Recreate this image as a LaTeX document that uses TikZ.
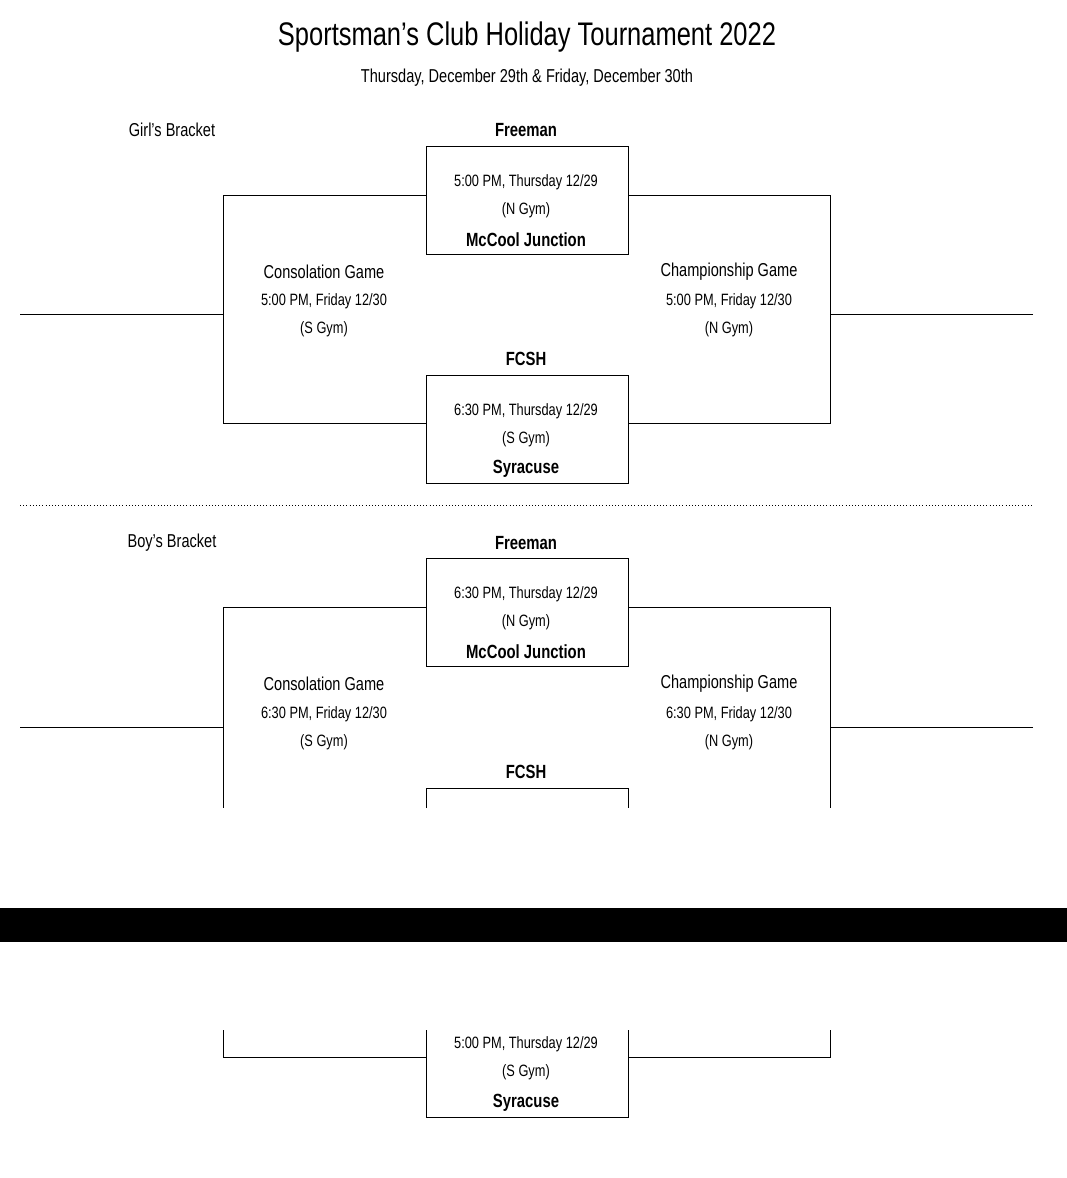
\documentclass[tikz,border=0pt]{standalone}
\usepackage{fontspec}
\setmainfont{Liberation Sans}[FakeStretch=0.78]
\begin{document}
\begin{tikzpicture}[x=0.75pt,y=-0.75pt,
  gbox/.style={draw,minimum width=151.5pt,minimum height=81pt,inner sep=0pt},
  txt/.style={inner sep=0pt,font=\fontsize{12.3}{14}\selectfont},
  team/.style={inner sep=0pt,font=\fontsize{14.3}{16}\selectfont\bfseries},
  head/.style={inner sep=0pt,font=\fontsize{14}{16}\selectfont}]
\useasboundingbox (0,0) rectangle (1067,1178);
% title
\node[inner sep=0pt,font=\fontsize{24.5}{28}\selectfont] (title) at (527,37) {Sportsman's Club Holiday Tournament 2022};
\node[inner sep=0pt,font=\fontsize{14}{16}\selectfont] (sub) at (527,78) {Thursday, December 29th \& Friday, December 30th};
% girls
\node[head] (glab) at (172,130) {Girl's Bracket};
\node[team] (gt1) at (526,130) {Freeman};
\node[gbox] (g1) at (527,200) {};
\node[txt] (g1a) at (526,182) {5:00 PM, Thursday 12/29};
\node[txt] (g1b) at (526,210) {(N Gym)};
\node[team] (gt2) at (526,240) {McCool Junction};
\node[team] (gt3) at (526,359) {FCSH};
\node[gbox] (g2) at (527,429.5) {};
\node[txt] (g2a) at (526,411) {6:30 PM, Thursday 12/29};
\node[txt] (g2b) at (526,439) {(S Gym)};
\node[team] (gt4) at (526,469) {Syracuse};
\node[head] (gc) at (324,272) {Consolation Game};
\node[txt] (gca) at (324,301) {5:00 PM, Friday 12/30};
\node[txt] (gcb) at (324,329) {(S Gym)};
\node[head] (gw) at (729,272) {Championship Game};
\node[txt] (gwa) at (729,301) {5:00 PM, Friday 12/30};
\node[txt] (gwb) at (729,329) {(N Gym)};
\coordinate (gl1) at (223,195);
\coordinate (gl2) at (223,423);
\coordinate (gr1) at (830,195);
\coordinate (gr2) at (830,423);
\coordinate (gle) at (20,314);
\coordinate (gre) at (1033,314);
\draw (g1.west|-gl1) -- (gl1) -- (gl2) -- (g2.west|-gl2);
\draw (g1.east|-gr1) -- (gr1) -- (gr2) -- (g2.east|-gr2);
\draw (gle) -- (gle-|gl1);
\draw (gre) -- (gre-|gr1);
% divider
\draw[dotted] (20,505) -- (1033,505);
% boys
\node[head] (blab) at (172,543) {Boy's Bracket};
\node[team] (bt1) at (526,543) {Freeman};
\node[gbox] (b1) at (527,612.5) {};
\node[txt] (b1a) at (526,594) {6:30 PM, Thursday 12/29};
\node[txt] (b1b) at (526,622) {(N Gym)};
\node[team] (bt2) at (526,652) {McCool Junction};
\node[team] (bt3) at (526,772) {FCSH};
\node[head] (bc) at (324,684) {Consolation Game};
\node[txt] (bca) at (324,714) {6:30 PM, Friday 12/30};
\node[txt] (bcb) at (324,742) {(S Gym)};
\node[head] (bw) at (729,684) {Championship Game};
\node[txt] (bwa) at (729,714) {6:30 PM, Friday 12/30};
\node[txt] (bwb) at (729,742) {(N Gym)};
\coordinate (bl1) at (223,607);
\coordinate (bl2) at (223,808);
\coordinate (br1) at (830,607);
\coordinate (br2) at (830,808);
\coordinate (ble) at (20,727);
\coordinate (bre) at (1033,727);
\draw (b1.west|-bl1) -- (bl1) -- (bl2);
\draw (b1.east|-br1) -- (br1) -- (br2);
\draw (ble) -- (ble-|bl1);
\draw (bre) -- (bre-|br1);
\draw (426,808) -- (426,788) -- (628,788) -- (628,808);
% page break bar
\fill (0,908) rectangle (1067,942);
% continued
\node[txt] (b2a) at (526,1044) {5:00 PM, Thursday 12/29};
\node[txt] (b2b) at (526,1072) {(S Gym)};
\node[team] (bt4) at (526,1103) {Syracuse};
\coordinate (bl3) at (223,1030);
\coordinate (bl4) at (223,1057);
\coordinate (br3) at (830,1030);
\coordinate (br4) at (830,1057);
\draw (426,1030) -- (426,1117) -- (628,1117) -- (628,1030);
\draw (bl3) -- (bl4) -- (bl4-|426,0);
\draw (br3) -- (br4) -- (br4-|628,0);
\end{tikzpicture}
\end{document}
